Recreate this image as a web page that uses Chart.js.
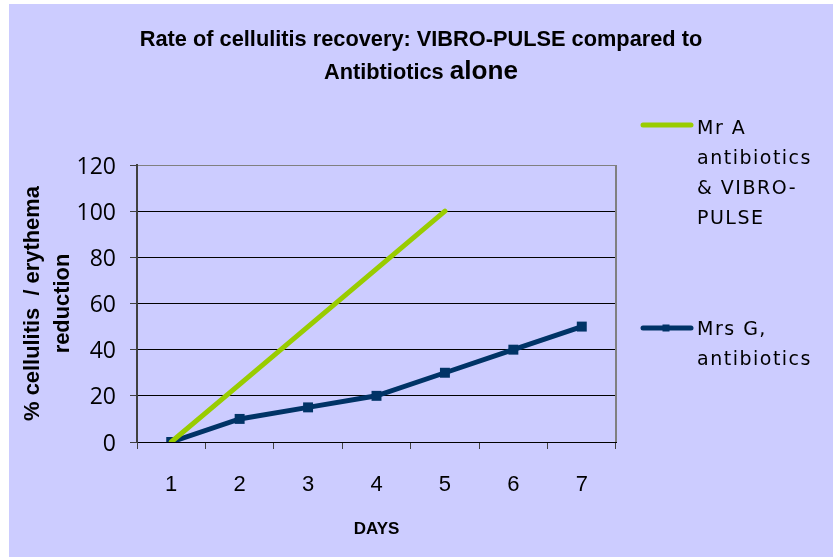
<!DOCTYPE html>
<html>
<head>
<meta charset="utf-8">
<script src="https://cdn.jsdelivr.net/npm/chart.js@4/dist/chart.umd.min.js"></script>
<style>
  html, body { margin: 0; padding: 0; background: #ffffff; }
  #c { display: block; }
</style>
</head>
<body>
<canvas id="c" width="833" height="559"></canvas>
<script>
// ---- data ----
const days = ['1', '2', '3', '4', '5', '6', '7'];
const mrA = [0, 25, 50, 75, 100, null, null];
const mrsG = [0, 10, 15, 20, 30, 40, 50];
const seriesNames = [['Mr A', 'antibiotics', '& VIBRO-', 'PULSE'], ['Mrs G,', 'antibiotics']];
const titleLine1 = 'Rate of cellulitis recovery: VIBRO-PULSE compared to';
const titleLine2a = 'Antibtiotics';
const titleLine2b = 'alone';
const yTitle = ['% cellulitis  / erythema', 'reduction'];
const xTitle = 'DAYS';
const yMin = 0, yMax = 120, yStep = 20;

const BG = '#ccccff';
const GREEN = '#99cc00';
const NAVY = '#003366';
const NARROW = "'Liberation Sans Narrow', 'Liberation Sans', Arial, sans-serif";
const WIDE = "'DejaVu Sans', Verdana, sans-serif";
const YTICK = "'Open Sans', 'DejaVu Sans', sans-serif";

const mctx = document.createElement('canvas').getContext('2d');
function fitSize(text, weight, family, target) {
  mctx.font = weight + ' 100px ' + family;
  return 100 * target / mctx.measureText(text).width;
}
const yTitleSize = Math.min(fitSize(yTitle[0], 'bold', NARROW, 235), 22);

const bgPlugin = {
  id: 'bg',
  beforeDraw(chart) {
    const ctx = chart.ctx;
    ctx.save();
    ctx.fillStyle = '#ffffff';
    ctx.fillRect(0, 0, chart.width, chart.height);
    ctx.fillStyle = BG;
    ctx.fillRect(9, 4, chart.width - 9, chart.height - 6);
    // title
    ctx.fillStyle = '#000';
    ctx.textBaseline = 'middle';
    ctx.textAlign = 'left';
    const s1 = fitSize(titleLine1, 'bold', NARROW, 563);
    ctx.font = 'bold ' + s1 + 'px ' + NARROW;
    const w1 = ctx.measureText(titleLine1).width;
    ctx.fillText(titleLine1, 421 - w1 / 2, 40);
    ctx.font = 'bold ' + s1 + 'px ' + NARROW;
    const wa = ctx.measureText(titleLine2a + ' ').width;
    ctx.font = 'bold ' + (s1 * 1.2) + 'px ' + NARROW;
    const wb = ctx.measureText(titleLine2b).width;
    const x0 = 421 - (wa + wb) / 2;
    ctx.font = 'bold ' + s1 + 'px ' + NARROW;
    ctx.fillText(titleLine2a, x0, 73);
    ctx.font = 'bold ' + (s1 * 1.2) + 'px ' + NARROW;
    ctx.fillText(titleLine2b, x0 + wa, 72);
    ctx.restore();
  },
  afterDraw(chart) {
    const ctx = chart.ctx;
    const a = chart.chartArea;
    ctx.save();
    ctx.strokeStyle = '#808080';
    ctx.lineWidth = 2;
    ctx.beginPath();
    ctx.moveTo(a.right, a.top);
    ctx.lineTo(a.right, a.bottom);
    ctx.stroke();
    // legend
    const entries = [
      { y: 125, lines: seriesNames[0], ds: chart.data.datasets[0], textY: 129 },
      { y: 328, lines: seriesNames[1], ds: chart.data.datasets[1], textY: 330 }
    ];
    ctx.font = '19px ' + WIDE;
    try { ctx.letterSpacing = '1.5px'; } catch (e) {}
    ctx.textBaseline = 'middle';
    ctx.textAlign = 'left';
    entries.forEach(e => {
      ctx.strokeStyle = e.ds.borderColor;
      ctx.lineWidth = 5;
      ctx.lineCap = 'round';
      ctx.beginPath();
      ctx.moveTo(643, e.y);
      ctx.lineTo(691, e.y);
      ctx.stroke();
      if (e.ds.pointRadius > 0) {
        ctx.fillStyle = e.ds.borderColor;
        ctx.fillRect(666 - 3.5, e.y - 3.5, 7, 7);
      }
      ctx.fillStyle = '#000';
      e.lines.forEach((t, i) => ctx.fillText(t, 697, e.textY + i * 30));
    });
    ctx.restore();
  }
};

new Chart(document.getElementById('c'), {
  type: 'line',
  data: {
    labels: days,
    datasets: [
      {
        label: seriesNames[0].join(' '),
        data: mrA,
        borderColor: GREEN,
        backgroundColor: GREEN,
        borderWidth: 5,
        pointRadius: 0,
        tension: 0,
        borderCapStyle: 'round',
        spanGaps: false
      },
      {
        label: seriesNames[1].join(' '),
        data: mrsG,
        borderColor: NAVY,
        backgroundColor: NAVY,
        borderWidth: 5,
        pointStyle: 'rect',
        pointRadius: 3.5,
        tension: 0
      }
    ]
  },
  options: {
    responsive: false,
    animation: false,
    devicePixelRatio: 1,
    layout: { padding: { top: 165, right: 217, left: 0, bottom: 0 } },
    plugins: {
      legend: { display: false },
      title: { display: false },
      tooltip: { enabled: false }
    },
    scales: {
      x: {
        type: 'category',
        offset: true,
        afterFit(scale) { scale.height = 117; },
        grid: {
          offset: true,
          drawOnChartArea: false,
          drawTicks: true,
          tickLength: 7,
          tickColor: '#404040',
          color: '#404040'
        },
        border: { display: true, color: '#000', width: 1 },
        ticks: {
          color: '#000',
          font: { family: NARROW, size: 22 },
          padding: 23,
          maxRotation: 0
        },
        title: {
          display: true,
          text: xTitle,
          color: '#000',
          font: { family: NARROW, size: 17, weight: 'bold' },
          padding: { top: 0, bottom: 19 }
        }
      },
      y: {
        min: yMin,
        max: yMax,
        afterFit(scale) { scale.width = 137; },
        grid: {
          color: ctx => (ctx.tick && ctx.tick.value === yMax) ? '#808080' : '#000',
          lineWidth: 1,
          tickLength: 7,
          tickColor: '#404040'
        },
        border: { display: true, color: '#404040', width: 2 },
        ticks: {
          stepSize: yStep,
          color: '#000',
          font: { family: YTICK, size: 23 },
          padding: 14,
          labelOffset: 2
        },
        title: {
          display: true,
          text: yTitle,
          color: '#000',
          font: { family: NARROW, size: yTitleSize, weight: 'bold', lineHeight: '30px' },
          padding: { top: 18, bottom: 0 }
        }
      }
    }
  },
  plugins: [bgPlugin]
});
</script>
</body>
</html>
